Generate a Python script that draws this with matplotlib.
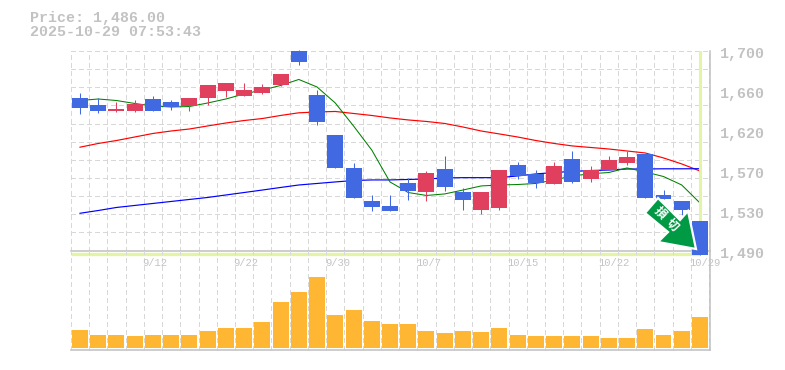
import numpy as np
import matplotlib
matplotlib.use('Agg')
import matplotlib.pyplot as plt
import matplotlib.patches as patches
from matplotlib.transforms import IdentityTransform

# candles, oldest first
opens = [1650.7, 1643.3, 1637.0, 1637.0, 1649.6, 1646.5, 1642.3, 1650.7, 1658.0, 1652.8, 1655.9, 1664.3,
         1700.0, 1653.8, 1611.8, 1577.2, 1542.5, 1537.3, 1561.4, 1552.0, 1576.1, 1552.0, 1533.0, 1535.2,
         1580.3, 1570.9, 1560.4, 1586.6, 1565.6, 1575.0, 1582.4, 1591.9, 1548.8, 1542.5, 1521.5]
highs = [1655.9, 1650.7, 1646.5, 1648.6, 1652.8, 1648.6, 1650.7, 1664.3, 1666.4, 1666.4, 1665.4, 1675.9,
         1701.0, 1659.0, 1611.8, 1582.4, 1548.8, 1548.8, 1566.7, 1574.0, 1589.8, 1556.2, 1552.0, 1575.0,
         1583.5, 1575.0, 1583.5, 1595.0, 1579.3, 1589.8, 1595.0, 1591.9, 1554.0, 1542.5, 1521.5]
lows = [1633.9, 1634.9, 1636.0, 1636.0, 1637.0, 1638.0, 1637.0, 1643.3, 1651.7, 1652.8, 1654.9, 1663.3,
        1685.3, 1622.3, 1577.2, 1545.7, 1532.0, 1532.0, 1543.6, 1542.5, 1553.0, 1533.0, 1528.9, 1533.0,
        1565.6, 1556.2, 1560.4, 1561.4, 1562.5, 1575.0, 1580.3, 1545.7, 1544.6, 1527.8, 1486.0]
closes = [1640.2, 1637.0, 1639.1, 1644.4, 1637.0, 1641.2, 1650.7, 1664.3, 1666.4, 1659.0, 1662.2, 1675.9,
          1688.5, 1625.5, 1577.2, 1545.7, 1536.2, 1532.0, 1553.0, 1571.9, 1557.2, 1543.6, 1552.0, 1575.0,
          1568.8, 1561.4, 1579.3, 1562.5, 1575.0, 1585.6, 1588.7, 1545.7, 1544.6, 1533.0, 1486.0]

ma_green = [1648.0, 1649.6, 1648.0, 1644.9, 1642.3, 1641.2, 1641.7, 1645.4, 1649.6, 1654.9, 1659.0, 1663.8,
            1670.1, 1662.2, 1645.4, 1621.3, 1596.0, 1562.5, 1551.4, 1548.3, 1549.9, 1554.0, 1558.3, 1559.3,
            1559.8, 1560.9, 1564.6, 1568.8, 1571.1, 1572.4, 1577.2, 1573.0, 1568.2, 1559.3, 1540.4]
ma_red = [1599.0, 1602.9, 1606.0, 1609.7, 1613.4, 1616.0, 1618.1, 1621.3, 1624.4, 1627.0, 1629.1, 1632.3,
          1635.1, 1636.0, 1636.5, 1634.4, 1632.3, 1629.7, 1627.6, 1626.0, 1623.9, 1620.2, 1616.0, 1612.9,
          1609.7, 1606.0, 1602.9, 1600.3, 1598.7, 1597.1, 1595.0, 1592.9, 1587.7, 1581.4, 1574.0]
ma_blue = [1529.6, 1532.5, 1535.7, 1537.8, 1539.9, 1542.0, 1544.1, 1546.2, 1548.8, 1551.4, 1554.0, 1556.7,
           1559.3, 1560.9, 1562.5, 1564.0, 1564.6, 1564.6, 1565.1, 1565.6, 1566.7, 1567.0, 1567.0, 1567.0,
           1568.8, 1570.9, 1572.4, 1573.5, 1574.5, 1575.0, 1576.1, 1576.1, 1576.3, 1576.3, 1576.4]

volumes = [18, 13, 13, 12, 13, 13, 13, 17, 20, 20, 26, 46, 56, 71, 33, 38, 27, 24,
           24, 17, 15, 17, 16, 20, 13, 12, 12, 12, 12, 10, 10, 19, 13, 17, 31]

price_labels = ['1,700', '1,660', '1,620', '1,570', '1,530', '1,490']
date_idx = [4, 9, 14, 19, 24, 29, 34]
date_labels = ['9/12', '9/22', '9/30', '10/7', '10/15', '10/22', '10/29']
last_price = 1486.0

W, H = 785, 370
BLUE = '#4169e1'
RED = '#e0405e'
ORANGE = '#ffb733'
GRID = '#d8d8d8'
FRAME = '#c0c0c0'
TEXT = '#c2c2c2'
LIME = '#e2f5a4'
ARROW = '#009944'
MONO = 'Liberation Mono'
DASH = (0, (4, 3))


def px_axes(fig, left, top, right, bottom):
    return fig.add_axes([left / W, 1 - bottom / H, (right - left) / W, (bottom - top) / H])


fig = plt.figure(figsize=(W / 100, H / 100), dpi=100, facecolor='white')
ax = px_axes(fig, 71, 51, 710, 250.6)
vol = px_axes(fig, 71, 250.6, 710, 350.3)

xs = np.arange(len(opens))
edges = np.arange(len(opens) + 1) - 0.5

for a in (ax, vol):
    a.set_xlim(-0.494, 34.55)
    a.set_xticks([])
    a.set_yticks([])
    a.patch.set_alpha(0)
    for s in a.spines.values():
        s.set_visible(False)
    a.vlines(edges, 0, 1, transform=a.get_xaxis_transform(), color=GRID, lw=0.75,
             linestyle=DASH, antialiased=False, zorder=0)

ax.set_ylim(1490.4, 1700)
vol.set_ylim(-2.3, 97.4)

ax.hlines(np.linspace(1490.4, 1700, 12), -0.494, 34.55, color=GRID, lw=0.75,
          linestyle=DASH, antialiased=False, zorder=0)

ax.plot(xs, ma_red, color='#ff0000', lw=0.85, zorder=2)
ax.plot(xs, ma_blue, color='#0000ff', lw=0.85, zorder=2)
ax.plot(xs, ma_green, color='#008000', lw=0.75, zorder=2)

# current price crosshair, it sits under the last candle
ax.axvline(34, color=LIME, lw=2.2, zorder=2.5)
ax.plot([-0.494, 34], [last_price + 1, last_price + 1], color=LIME, lw=2.4, zorder=2.5,
        clip_on=False, solid_capstyle='butt')

colors = [BLUE if c < o else RED for o, c in zip(opens, closes)]
ax.vlines(xs, lows, highs, color=colors, lw=0.75, zorder=3, clip_on=False)
ax.bar(xs, np.array(closes) - np.array(opens), bottom=opens, width=0.877, color=colors,
       zorder=3, clip_on=False)

vol.bar(xs, volumes, width=0.877, color=ORANGE, zorder=3)

# frame, only bottom and right are drawn
ax.plot([-0.494, 34.55], [1490.4, 1490.4], color=FRAME, lw=1.1, zorder=2.4, clip_on=False)
vol.axhline(-2.3, color=FRAME, lw=1.1, clip_on=False)
vol.axvline(34.55, color=FRAME, lw=1.1, clip_on=False)
ax.axvline(34.55, color=FRAME, lw=1.1, clip_on=False)

tick_y = np.linspace(1700, 1490.4, len(price_labels))
for y, lab in zip(tick_y, price_labels):
    ax.annotate(lab, (1, y), xycoords=ax.get_yaxis_transform(), xytext=(10, -3), textcoords='offset pixels',
                family=MONO, fontweight='bold', fontsize=10.8, color=TEXT, ha='left', va='center')

for i, lab in zip(date_idx, date_labels):
    vol.annotate(lab, (i, 1), xycoords=vol.get_xaxis_transform(), xytext=(-10.5, -12), textcoords='offset pixels',
                 family=MONO, fontsize=7.6, color='#c4c4c4', ha='left', va='center')

fig.text(30 / W, 1 - 18 / H, 'Price: 1,486.00', family=MONO, fontweight='bold', fontsize=10.8, color=TEXT, va='center')
fig.text(30 / W, 1 - 32 / H, '2025-10-29 07:53:43', family=MONO, fontweight='bold', fontsize=10.8, color=TEXT,
         va='center')

# stop-loss arrow, outline in pixels measured from its tip
tip_x, tip_y = 696, 249
arrow_dx = [0, -8, -16, -38, -51, -28, -38]
arrow_dy = [0, -38, -29, -51, -36, -17, -7]
pts = [(tip_x + dx, H - (tip_y + dy)) for dx, dy in zip(arrow_dx, arrow_dy)]
fig.add_artist(patches.Polygon(pts, closed=True, transform=IdentityTransform(), facecolor=ARROW,
                               edgecolor='white', lw=1.6, joinstyle='miter', zorder=6))
for ch, dx, dy in [('損', -36, -36), ('切', -24, -24)]:
    fig.text((tip_x + dx) / W, 1 - (tip_y + dy) / H, ch, family='Noto Sans CJK JP', fontweight='bold', fontsize=8.5,
             color='white', rotation=-45, rotation_mode='anchor', ha='center', va='center', zorder=7)

fig.savefig('out.png', dpi=100, facecolor='white')
